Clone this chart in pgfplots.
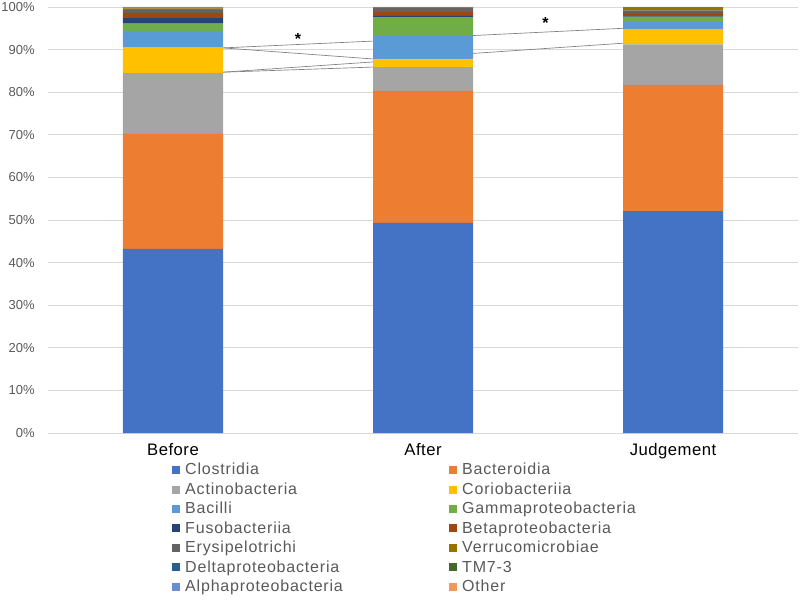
\documentclass[border=0pt]{standalone}
\usepackage{fontspec}
\setmainfont{Liberation Sans}
\newfontfamily\legfont[LetterSpace=5]{Liberation Sans}
\newfontfamily\catfont[LetterSpace=3]{Liberation Sans}
\usepackage{pgfplots}
\pgfplotsset{compat=1.18}
\usepackage{pgfplotstable}

\definecolor{cClos}{HTML}{4472C4}
\definecolor{cBact}{HTML}{ED7D31}
\definecolor{cAct}{HTML}{A5A5A5}
\definecolor{cCorio}{HTML}{FFC000}
\definecolor{cBac}{HTML}{5B9BD5}
\definecolor{cGam}{HTML}{70AD47}
\definecolor{cFuso}{HTML}{264478}
\definecolor{cBeta}{HTML}{9E480E}
\definecolor{cEry}{HTML}{636363}
\definecolor{cVerr}{HTML}{997300}
\definecolor{cDelta}{HTML}{255E91}
\definecolor{cTM}{HTML}{43682B}
\definecolor{cAlpha}{HTML}{698ED0}
\definecolor{cOther}{HTML}{F1975A}
\definecolor{txtgray}{HTML}{595959}
\definecolor{gridgray}{HTML}{D9D9D9}

% relative abundance (%) per class, one row per time point
\pgfplotstableread{
x Clos Bact Act Corio Bac Gam Fuso Beta Ery Verr Delta TM Alpha Other
0 43.2 27.0 14.3 6.1 3.8 1.7 1.3 1.2 0.7 0.4 0.1 0.05 0.05 0.1
1 49.3 31.0 5.6 1.8 5.5 4.4 0.3 0.9 1.1 0.05 0.0 0.0 0.0 0.05
2 52.1 29.6 9.5 3.6 1.7 1.2 0.1 0.8 0.6 0.55 0.05 0.1 0.05 0.05
}\data

\begin{document}
\begin{tikzpicture}
\useasboundingbox (-36pt,-127.5pt) rectangle (564pt,324.75pt);
\begin{axis}[
  at={(0pt,0pt)}, anchor=south west,
  scale only axis, width=562.5pt, height=319.5pt,
  ybar stacked, bar width=0.4,
  xmin=-0.5, xmax=2.5, ymin=0, ymax=100,
  xtick={0,1,2}, xticklabels={Before,After,Judgement},
  ytick={0,10,...,100},
  yticklabel={\pgfmathprintnumber{\tick}\%},
  /pgf/number format/assume math mode=true,
  ymajorgrids, grid style={gridgray, line width=0.6pt},
  axis line style={draw=none},
  major tick length=0pt, tick style={draw=none},
  xticklabel style={font=\catfont\fontsize{12.5}{14}\selectfont, text=black, inner sep=0pt, anchor=north, yshift=-7.5pt},
  yticklabel style={font=\fontsize{9.75}{12}\selectfont, text=txtgray, inner sep=0pt, anchor=east, xshift=-9.75pt},
  every axis plot post/.append style={draw=none,
    legend image code/.code={\fill[##1] (0pt,-2.5pt) rectangle (6pt,3.5pt); \path (9.75pt,0pt);}},
  legend columns=2,
  legend cell align=left,
  legend style={at={(0.1653,-0.0707)}, anchor=north west, draw=none, fill=none,
    inner sep=0pt, row sep=3.6pt, column sep=0pt,
    font=\legfont\fontsize{12}{13}\selectfont, text=txtgray,
    nodes={inner sep=0pt, text width=198pt, align=left, text height=8.5pt, text depth=2.5pt}},
]
\addplot[fill=cClos] table[x=x,y=Clos]{\data};
\addlegendentry{Clostridia}
\addplot[fill=cBact] table[x=x,y=Bact]{\data};
\addlegendentry{Bacteroidia}
\addplot[fill=cAct] table[x=x,y=Act]{\data};
\addlegendentry{Actinobacteria}
\addplot[fill=cCorio] table[x=x,y=Corio]{\data};
\addlegendentry{Coriobacteriia}
\addplot[fill=cBac] table[x=x,y=Bac]{\data};
\addlegendentry{Bacilli}
\addplot[fill=cGam] table[x=x,y=Gam]{\data};
\addlegendentry{Gammaproteobacteria}
\addplot[fill=cFuso] table[x=x,y=Fuso]{\data};
\addlegendentry{Fusobacteriia}
\addplot[fill=cBeta] table[x=x,y=Beta]{\data};
\addlegendentry{Betaproteobacteria}
\addplot[fill=cEry] table[x=x,y=Ery]{\data};
\addlegendentry{Erysipelotrichi}
\addplot[fill=cVerr] table[x=x,y=Verr]{\data};
\addlegendentry{Verrucomicrobiae}
\addplot[fill=cDelta] table[x=x,y=Delta]{\data};
\addlegendentry{Deltaproteobacteria}
\addplot[fill=cTM] table[x=x,y=TM]{\data};
\addlegendentry{TM7-3}
\addplot[fill=cAlpha] table[x=x,y=Alpha]{\data};
\addlegendentry{Alphaproteobacteria}
\addplot[fill=cOther] table[x=x,y=Other]{\data};
\addlegendentry{Other}

% significance connectors
\draw[gray, line width=0.5pt] (axis cs:0.2,90.4) -- (axis cs:0.8,92.0);
\draw[gray, line width=0.5pt] (axis cs:0.2,90.4) -- (axis cs:0.8,87.8);
\draw[gray, line width=0.5pt] (axis cs:0.2,84.7) -- (axis cs:0.8,87.1);
\draw[gray, line width=0.5pt] (axis cs:0.2,84.7) -- (axis cs:0.8,85.9);
\draw[gray, line width=0.5pt] (axis cs:1.2,93.3) -- (axis cs:1.8,95.0);
\draw[gray, line width=0.5pt] (axis cs:1.2,89.1) -- (axis cs:1.8,91.5);
\node[inner sep=0pt, font=\bfseries\fontsize{12}{14}\selectfont, yshift=-2.6pt] at (axis cs:0.5,93.3) {*};
\node[inner sep=0pt, font=\bfseries\fontsize{12}{14}\selectfont, yshift=-2.6pt] at (axis cs:1.49,97.0) {*};
\end{axis}
\end{tikzpicture}
\end{document}
